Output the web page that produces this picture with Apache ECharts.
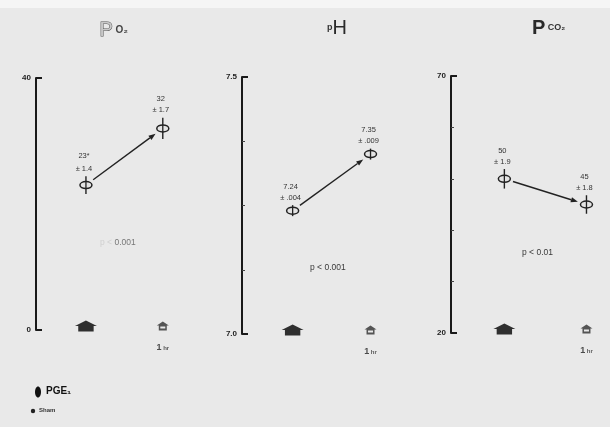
<!DOCTYPE html>
<html>
<head>
<meta charset="utf-8">
<script src="https://cdn.jsdelivr.net/npm/echarts@6/dist/echarts.min.js"></script>
<style>
  html, body { margin: 0; padding: 0; background: #e9e9e9; }
  #chart { width: 610px; height: 427px; }
</style>
</head>
<body>
<div id="chart"></div>
<script>
// time points: start of PGE1 and 1 hr later
const timePoints = [0, 1];
const timeLabels = ['', '1 hr'];

const po2Mean = [23, 32];
const po2Sem = [1.4, 1.7];
const po2MeanText = ['23', '32'];
const po2Mark = ['*', ''];
const po2SemText = ['± 1.4', '± 1.7'];

const phMean = [7.24, 7.35];
const phSem = [0.004, 0.009];
const phMeanText = ['7.24', '7.35'];
const phSemText = ['± .004', '± .009'];

const pco2Mean = [50, 45];
const pco2Sem = [1.9, 1.8];
const pco2MeanText = ['50', '45'];
const pco2SemText = ['± 1.9', '± 1.8'];

const axisMin = [0, 7.0, 20];
const axisMax = [40, 7.5, 70];
const axisStep = [40, 0.125, 10];
const axisEndLabels = [['0', '40'], ['7.0', '7.5'], ['20', '70']];
const pValueText = ['p < 0.001', 'p < 0.001', 'p < 0.01'];

const FONT = '"Liberation Sans", Arial, "DejaVu Sans", sans-serif';
const ink = '#222';

const panels = [
  { mean: po2Mean, sem: po2Sem, meanText: po2MeanText, mark: po2Mark, semText: po2SemText },
  { mean: phMean, sem: phSem, meanText: phMeanText, mark: ['', ''], semText: phSemText },
  { mean: pco2Mean, sem: pco2Sem, meanText: pco2MeanText, mark: ['', ''], semText: pco2SemText }
];

const gridBoxes = [
  { left: 36, top: 78, width: 146, height: 252 },
  { left: 242, top: 77, width: 148, height: 257 },
  { left: 451, top: 76, width: 156, height: 257 }
];

const bigArrow = 'path://M10,0 L20,5 L17,5 L17,10 L3,10 L3,5 L0,5 Z';
const smallArrow = 'path://M6,0 L12,4 L10,4 L10,9 L2,9 L2,4 L0,4 Z M3.5,5 L3.5,7 L8.5,7 L8.5,5 Z';

function makeRender(panel) {
  return function (params, api) {
    const k = params.dataIndex;
    const t = api.value(0), v = api.value(1), e = api.value(2);
    const c = api.coord([t, v]);
    const up = api.coord([t, v + e]);
    const half = Math.max(c[1] - up[1], 5.5);
    let txt = '{m|' + panel.meanText[k] + '}';
    if (panel.mark[k]) txt += '{s|' + panel.mark[k] + '}';
    txt += '\n{e|' + panel.semText[k] + '}';
    const kids = [
      { type: 'line', shape: { x1: c[0], y1: c[1] - half, x2: c[0], y2: c[1] + half },
        style: { stroke: ink, lineWidth: 1.4 } },
      { type: 'ellipse', shape: { cx: c[0], cy: c[1], rx: 6, ry: 3.5 },
        style: { fill: '#e4e4e4', stroke: ink, lineWidth: 1.5 } },
      { type: 'line', shape: { x1: c[0], y1: c[1] - 3.5, x2: c[0], y2: c[1] + 3.5 },
        style: { stroke: ink, lineWidth: 1.3 } },
      { type: 'text', style: {
          text: txt, x: c[0] - 2, y: c[1] - half - 2, align: 'center', verticalAlign: 'bottom',
          rich: {
            m: { fontSize: 7.5, fontFamily: FONT, fill: '#333', lineHeight: 11 },
            s: { fontSize: 7, fontFamily: FONT, fill: '#333', lineHeight: 15 },
            e: { fontSize: 7.5, fontFamily: FONT, fill: '#333', lineHeight: 11 }
          }
        } }
    ];
    if (k > 0) {
      const p = api.coord([timePoints[k - 1], panel.mean[k - 1]]);
      const dx = c[0] - p[0], dy = c[1] - p[1];
      const len = Math.hypot(dx, dy), ux = dx / len, uy = dy / len;
      const s = [p[0] + ux * 9, p[1] + uy * 9];
      const end = [c[0] - ux * 9, c[1] - uy * 9];
      const head = 7, w = 2.6;
      const b = [end[0] - ux * head, end[1] - uy * head];
      kids.push({ type: 'line', shape: { x1: s[0], y1: s[1], x2: b[0], y2: b[1] },
        style: { stroke: ink, lineWidth: 1.4 } });
      kids.push({ type: 'polygon',
        shape: { points: [end, [b[0] - uy * w, b[1] + ux * w], [b[0] + uy * w, b[1] - ux * w]] },
        style: { fill: ink } });
    }
    return { type: 'group', children: kids };
  };
}

const grid = gridBoxes.map(g => Object.assign({ containLabel: false }, g));
const xAxis = [];
const yAxis = [];
const series = [];

panels.forEach((panel, i) => {
  xAxis.push({ type: 'value', gridIndex: i, min: -0.65, max: 1.25, show: false });
  yAxis.push({
    type: 'value', gridIndex: i, position: 'left',
    min: axisMin[i], max: axisMax[i], interval: axisStep[i],
    axisLine: { show: true, onZero: false, lineStyle: { color: '#1a1a1a', width: 2 } },
    axisTick: { show: true, inside: true, length: 3, lineStyle: { color: '#444', width: 1 } },
    axisLabel: {
      margin: 5, fontSize: 8, fontWeight: 'bold', color: '#222', fontFamily: FONT,
      formatter: v => Math.abs(v - axisMin[i]) < 1e-9 ? axisEndLabels[i][0]
        : (Math.abs(v - axisMax[i]) < 1e-9 ? axisEndLabels[i][1] : '')
    },
    splitLine: { show: false }
  });
  yAxis.push({
    type: 'value', gridIndex: i, position: 'left', offset: 0,
    min: axisMin[i], max: axisMax[i],
    axisLine: { show: false, onZero: false },
    axisTick: { show: true, inside: true, length: 6, customValues: [axisMin[i], axisMax[i]],
      lineStyle: { color: '#1a1a1a', width: 2 } },
    axisLabel: { show: false },
    splitLine: { show: false }
  });
  series.push({
    type: 'custom', xAxisIndex: i, yAxisIndex: 2 * i, clip: false, z: 10,
    encode: { x: 0, y: 1 },
    data: timePoints.map((t, k) => [t, panel.mean[k], panel.sem[k]]),
    renderItem: makeRender(panel)
  });
  series.push({
    type: 'scatter', xAxisIndex: i, yAxisIndex: 2 * i, z: 5,
    symbolOffset: [0, -4],
    data: timePoints.map((t, k) => ({
      value: [t, axisMin[i]],
      symbol: k === 0 ? bigArrow : smallArrow,
      symbolSize: k === 0 ? [22, 11] : [12, 9],
      itemStyle: { color: k === 0 ? '#000' : '#2e2e2e' },
      label: {
        show: timeLabels[k] !== '', position: 'bottom', distance: 13,
        formatter: () => '{a|' + timeLabels[k].split(' ')[0] + '}{b| ' + (timeLabels[k].split(' ')[1] || '') + '}',
        rich: {
          a: { fontSize: 9, fontWeight: 'bold', color: '#222', fontFamily: FONT },
          b: { fontSize: 6, fontWeight: 'bold', color: '#333', fontFamily: FONT }
        }
      }
    }))
  });
});

const pPos = [[100, 243], [310, 268], [522, 253]];
const pText = pValueText.map((s, i) => ({
  type: 'text', left: pPos[i][0], top: pPos[i][1] - 5,
  style: {
    text: i === 0 ? '{f|' + s.slice(0, 3) + '}{n|' + s.slice(3) + '}' : '{n|' + s + '}',
    rich: {
      f: { fontSize: 8.5, fill: '#d0d0d0', fontFamily: FONT },
      n: { fontSize: 8.5, fill: i === 0 ? '#777' : '#3a3a3a', fontFamily: FONT }
    }
  }
}));

const titles = [
  { type: 'text', left: 99, top: 20, style: {
      text: '{P|P}{o| O₂}',
      rich: {
        P: { fontSize: 20, fontFamily: FONT, fill: '#c8c8c8', stroke: '#555', lineWidth: 1, lineHeight: 22 },
        o: { fontSize: 10, fontFamily: FONT, fill: '#444', fontWeight: 'bold', lineHeight: 18 }
      } } },
  { type: 'text', left: 327, top: 18, style: {
      text: '{p|p}{H|H}',
      rich: {
        p: { fontSize: 9, fontFamily: FONT, fill: '#333', fontWeight: 'bold', lineHeight: 20 },
        H: { fontSize: 20, fontFamily: FONT, fill: '#2a2a2a', lineHeight: 22 }
      } } },
  { type: 'text', left: 532, top: 18, style: {
      text: '{P|P}{c| CO₂}',
      rich: {
        P: { fontSize: 20, fontFamily: FONT, fill: '#2a2a2a', fontWeight: 'bold', lineHeight: 22 },
        c: { fontSize: 9, fontFamily: FONT, fill: '#333', fontWeight: 'bold', lineHeight: 18 }
      } } }
];

const legendBits = [
  { type: 'ellipse', shape: { cx: 38, cy: 392, rx: 3, ry: 5.5 }, style: { fill: '#111' } },
  { type: 'text', left: 46, top: 386, style: {
      text: 'PGE₁', fontSize: 10, fontWeight: 'bold', fill: '#111', fontFamily: FONT } },
  { type: 'circle', shape: { cx: 33, cy: 411, r: 2.2 }, style: { fill: '#222' } },
  { type: 'text', left: 39, top: 407, style: {
      text: 'Sham', fontSize: 6, fontWeight: 'bold', fill: '#333', fontFamily: FONT } }
];

const chart = echarts.init(document.getElementById('chart'));
chart.setOption({
  backgroundColor: '#e9e9e9',
  animation: false,
  grid: grid,
  xAxis: xAxis,
  yAxis: yAxis,
  series: series,
  graphic: [
    { type: 'rect', shape: { x: 0, y: 0, width: 610, height: 8 }, style: { fill: '#f5f5f5' }, z: -1 }
  ].concat(titles, pText, legendBits)
});
</script>
</body>
</html>
